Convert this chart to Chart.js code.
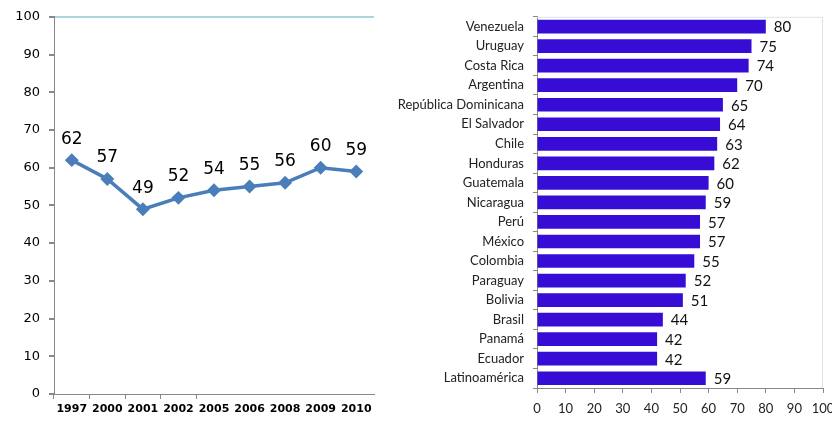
<!DOCTYPE html>
<html>
<head>
<meta charset="utf-8">
<script src="https://cdn.jsdelivr.net/npm/chart.js@4"></script>
<style>
  body { margin: 0; background: #fff; overflow: hidden; }
  .box { position: absolute; top: 0; height: 421px; }
  #left { left: 0; width: 382px; }
  #right { left: 385px; width: 447px; }
</style>
</head>
<body>
<div class="box" id="left"><canvas id="trendChart"></canvas></div>
<div class="box" id="right"><canvas id="countryChart"></canvas></div>
<script>
const years = ['1997', '2000', '2001', '2002', '2005', '2006', '2008', '2009', '2010'];
const trend = [62, 57, 49, 52, 54, 55, 56, 60, 59];

const countries = ['Venezuela', 'Uruguay', 'Costa Rica', 'Argentina', 'República Dominicana',
  'El Salvador', 'Chile', 'Honduras', 'Guatemala', 'Nicaragua', 'Perú', 'México', 'Colombia',
  'Paraguay', 'Bolivia', 'Brasil', 'Panamá', 'Ecuador', 'Latinoamérica'];
const scores = [80, 75, 74, 70, 65, 64, 63, 62, 60, 59, 57, 57, 55, 52, 51, 44, 42, 42, 59];

// small inline plugin for the value labels (no datalabels plugin offline)
const valueLabels = {
  id: 'valueLabels',
  afterDatasetsDraw(chart, args, opts) {
    const ctx = chart.ctx;
    const meta = chart.getDatasetMeta(0);
    const values = chart.data.datasets[0].data;
    ctx.save();
    ctx.font = opts.font;
    ctx.fillStyle = opts.color;
    ctx.textBaseline = 'middle';
    meta.data.forEach((el, i) => {
      if (chart.options.indexAxis === 'y') {
        ctx.textAlign = 'left';
        ctx.fillText(values[i], el.x + opts.dx, el.y + opts.dy);
      } else {
        ctx.textAlign = 'center';
        ctx.fillText(values[i], el.x, el.y + opts.dy);
      }
    });
    ctx.restore();
  }
};

// light frame on top / right of the bar chart
const frame = {
  id: 'frame',
  beforeDatasetsDraw(chart) {
    const { ctx, chartArea } = chart;
    ctx.save();
    ctx.strokeStyle = '#d7e4ec';
    ctx.lineWidth = 1;
    ctx.beginPath();
    ctx.moveTo(chartArea.left, chartArea.top + 0.5);
    ctx.lineTo(chartArea.right - 0.5, chartArea.top + 0.5);
    ctx.lineTo(chartArea.right - 0.5, chartArea.bottom);
    ctx.stroke();
    ctx.restore();
  }
};

new Chart(document.getElementById('trendChart'), {
  type: 'line',
  data: {
    labels: years,
    datasets: [{
      data: trend,
      borderColor: '#4a7ebb',
      backgroundColor: '#4a7ebb',
      borderWidth: 3.5,
      pointStyle: 'rectRot',
      pointRadius: 4.5,
      tension: 0
    }]
  },
  options: {
    responsive: true,
    maintainAspectRatio: false,
    animation: false,
    layout: { padding: { top: 14, right: 6, left: 0, bottom: 0 } },
    plugins: {
      legend: { display: false },
      tooltip: { enabled: false },
      valueLabels: { font: '17px "DejaVu Sans"', color: '#000', dy: -21 }
    },
    scales: {
      x: {
        offset: true,
        grid: {
          offset: true,
          drawOnChartArea: false,
          tickLength: 5,
          tickColor: c => c.index <= 4 ? '#888' : 'rgba(0,0,0,0)'
        },
        border: { color: '#888' },
        ticks: { color: '#000', font: { family: 'DejaVu Sans', size: 11, weight: 'bold' }, padding: 4, maxRotation: 0 },
        afterFit: s => { s.height = 27; }
      },
      y: {
        min: 0,
        max: 100,
        ticks: { stepSize: 10, color: '#000', font: { family: 'DejaVu Sans', size: 13 }, padding: 9 },
        grid: {
          color: c => c.tick && c.tick.value === 100 ? '#a9d6dd' : 'rgba(0,0,0,0)',
          lineWidth: 2,
          tickLength: 5,
          tickColor: '#888'
        },
        border: { color: '#888' },
        afterFit: s => { s.width = 54; }
      }
    }
  },
  plugins: [valueLabels]
});

new Chart(document.getElementById('countryChart'), {
  type: 'bar',
  data: {
    labels: countries,
    datasets: [{
      data: scores,
      backgroundColor: '#370cd4',
      barPercentage: 0.7,
      categoryPercentage: 1
    }]
  },
  options: {
    indexAxis: 'y',
    responsive: true,
    maintainAspectRatio: false,
    animation: false,
    layout: { padding: { top: 12, right: 9, left: 0, bottom: 0 } },
    plugins: {
      legend: { display: false },
      tooltip: { enabled: false },
      valueLabels: { font: '15px Lato', color: '#111', dx: 8, dy: 1 }
    },
    scales: {
      x: {
        min: 0,
        max: 100,
        ticks: { stepSize: 10, color: '#222', font: { family: 'Lato', size: 13 }, padding: 8, maxRotation: 0, minRotation: 0 },
        grid: { drawOnChartArea: false, tickLength: 5, tickColor: '#888' },
        border: { color: '#888' },
        afterFit: s => { s.height = 33; s.paddingRight = 0; s.paddingLeft = 0; }
      },
      y: {
        ticks: { color: '#222', font: { family: 'Lato', size: 13 }, padding: 9, autoSkip: false },
        grid: { offset: true, drawOnChartArea: false, tickLength: 4, tickColor: '#888' },
        border: { color: '#888' },
        afterFit: s => { s.width = 152; }
      }
    }
  },
  plugins: [frame, valueLabels]
});
</script>
</body>
</html>
